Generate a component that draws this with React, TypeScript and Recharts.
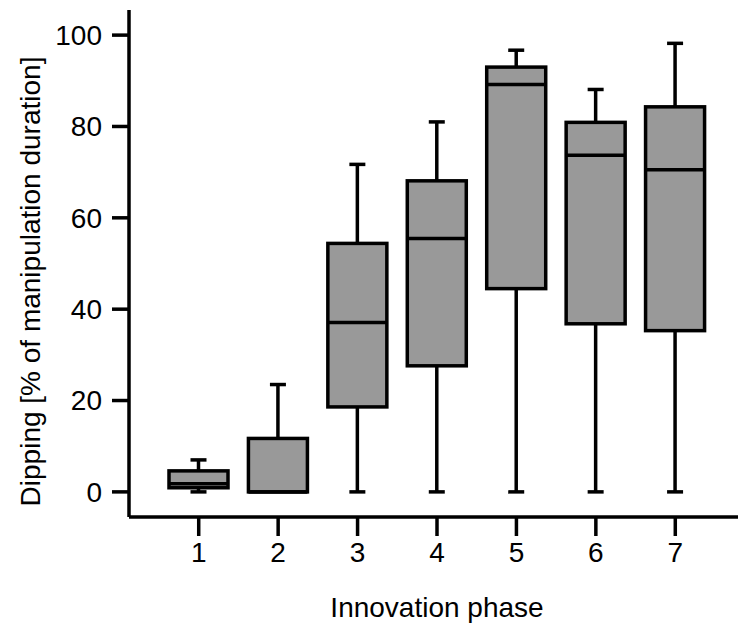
import { ComposedChart, Bar, XAxis, YAxis, Label } from 'recharts'

const phases = ['1', '2', '3', '4', '5', '6', '7']
const mins = [0, 0, 0, 0, 0, 0, 0]
const q1s = [0.9, 0, 18.6, 27.6, 44.5, 36.8, 35.3]
const medians = [1.8, 0, 37.1, 55.5, 89.2, 73.7, 70.5]
const q3s = [4.6, 11.7, 54.4, 68.1, 93.0, 80.9, 84.3]
const maxs = [7.0, 23.5, 71.7, 81.0, 96.7, 88.1, 98.2]
const yTicks = [0, 20, 40, 60, 80, 100]

const data = phases.map((p, i) => ({
  phase: p,
  min: mins[i],
  q1: q1s[i],
  median: medians[i],
  q3: q3s[i],
  max: maxs[i],
}))

const font = { fontFamily: 'Liberation Sans, Arial, sans-serif', fontSize: 28, fill: '#000' }
const sw = 3.5

function BoxShape(props: any) {
  const { x, y, width, height, payload } = props
  const { min, q1, median, q3, max } = payload
  // bar spans [min, max]; scale is linear so map the rest inside it
  const py = (v: number) => y + (height * (max - v)) / (max - min)
  const cx = x + width / 2
  const cap = 16
  return (
    <g stroke="#000" strokeWidth={sw}>
      <line x1={cx} x2={cx} y1={py(max)} y2={py(q3)} />
      <line x1={cx - cap / 2} x2={cx + cap / 2} y1={py(max)} y2={py(max)} />
      {q1 > min && <line x1={cx} x2={cx} y1={py(q1)} y2={py(min)} />}
      {q1 > min && <line x1={cx - cap / 2} x2={cx + cap / 2} y1={py(min)} y2={py(min)} />}
      <rect x={x} y={py(q3)} width={width} height={py(q1) - py(q3)} fill="#999999" />
      <line x1={x} x2={x + width} y1={py(median)} y2={py(median)} />
    </g>
  )
}

export default function App() {
  return (
    <div style={{ position: 'absolute', left: 0, top: 0, width: 738, height: 627, overflow: 'hidden', background: '#fff' }}>
      <ComposedChart width={760} height={627} data={data} margin={{ top: 10, right: 15, bottom: 0, left: 0 }}>
        <XAxis
          xAxisId="top"
          orientation="top"
          dataKey="phase"
          height={0}
          tick={false}
          tickLine={false}
          axisLine={{ stroke: '#000', strokeWidth: sw }}
        />
        <XAxis
          dataKey="phase"
          height={110}
          padding={{ left: 30, right: 30 }}
          tick={font}
          tickSize={19}
          tickMargin={6}
          tickLine={{ stroke: '#000', strokeWidth: sw }}
          axisLine={{ stroke: '#000', strokeWidth: sw }}
        >
          <Label value="Innovation phase" position="insideBottom" offset={10} style={font} />
        </XAxis>
        <YAxis
          type="number"
          domain={[-5.5, 105.5]}
          ticks={yTicks}
          width={129}
          tick={font}
          tickSize={17}
          tickMargin={10}
          tickLine={{ stroke: '#000', strokeWidth: sw }}
          axisLine={{ stroke: '#000', strokeWidth: sw }}
        >
          <Label
            content={({ viewBox }: any) => {
              const lx = viewBox.x + 30
              const ly = viewBox.y + viewBox.height / 2 + 18
              return (
                <text x={lx} y={ly} transform={`rotate(-90 ${lx} ${ly})`} textAnchor="middle" dominantBaseline="central" style={font}>
                  Dipping [% of manipulation duration]
                </text>
              )
            }}
          />
        </YAxis>
        <Bar
          dataKey={(d: any) => [d.min, d.max]}
          barSize={59}
          shape={<BoxShape />}
          isAnimationActive={false}
        />
      </ComposedChart>
    </div>
  )
}
